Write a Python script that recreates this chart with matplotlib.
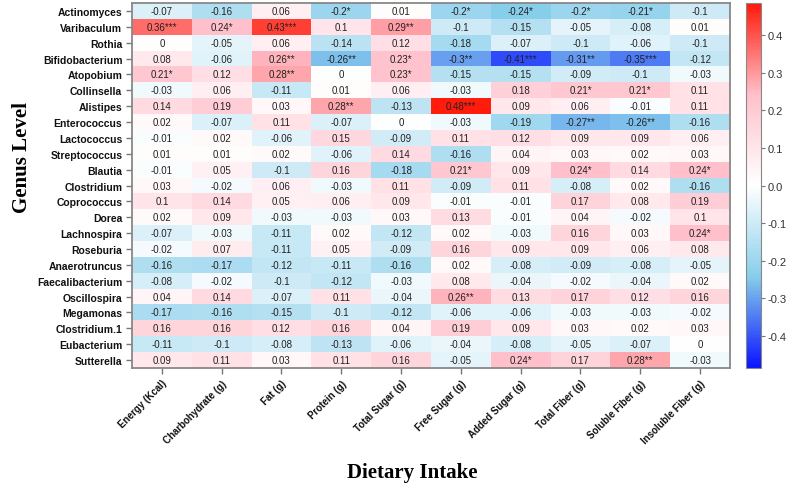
import matplotlib
matplotlib.use("Agg")
import matplotlib.pyplot as plt
import numpy as np
from matplotlib.colors import LinearSegmentedColormap

genera = [
    "Actinomyces", "Varibaculum", "Rothia", "Bifidobacterium", "Atopobium",
    "Collinsella", "Alistipes", "Enterococcus", "Lactococcus", "Streptococcus",
    "Blautia", "Clostridium", "Coprococcus", "Dorea", "Lachnospira",
    "Roseburia", "Anaerotruncus", "Faecalibacterium", "Oscillospira",
    "Megamonas", "Clostridium.1", "Eubacterium", "Sutterella",
]
nutrients = [
    "Energy (Kcal)", "Charbohydrate (g)", "Fat (g)", "Protein (g)",
    "Total Sugar (g)", "Free Sugar (g)", "Added Sugar (g)",
    "Total Fiber (g)", "Soluble Fiber (g)", "Insoluble Fiber (g)",
]

# correlation coefficients, one row per genus
corr = [
    [-0.07, -0.16, 0.06, -0.2, 0.01, -0.2, -0.24, -0.2, -0.21, -0.1],
    [0.36, 0.24, 0.43, 0.1, 0.29, -0.1, -0.15, -0.05, -0.08, 0.01],
    [0, -0.05, 0.06, -0.14, 0.12, -0.18, -0.07, -0.1, -0.06, -0.1],
    [0.08, -0.06, 0.26, -0.26, 0.23, -0.3, -0.41, -0.31, -0.35, -0.12],
    [0.21, 0.12, 0.28, 0, 0.23, -0.15, -0.15, -0.09, -0.1, -0.03],
    [-0.03, 0.06, -0.11, 0.01, 0.06, -0.03, 0.18, 0.21, 0.21, 0.11],
    [0.14, 0.19, 0.03, 0.28, -0.13, 0.48, 0.09, 0.06, -0.01, 0.11],
    [0.02, -0.07, 0.11, -0.07, 0, -0.03, -0.19, -0.27, -0.26, -0.16],
    [-0.01, 0.02, -0.06, 0.15, -0.09, 0.11, 0.12, 0.09, 0.09, 0.06],
    [0.01, 0.01, 0.02, -0.06, 0.14, -0.16, 0.04, 0.03, 0.02, 0.03],
    [-0.01, 0.05, -0.1, 0.16, -0.18, 0.21, 0.09, 0.24, 0.14, 0.24],
    [0.03, -0.02, 0.06, -0.03, 0.11, -0.09, 0.11, -0.08, 0.02, -0.16],
    [0.1, 0.14, 0.05, 0.06, 0.09, -0.01, -0.01, 0.17, 0.08, 0.19],
    [0.02, 0.09, -0.03, -0.03, 0.03, 0.13, -0.01, 0.04, -0.02, 0.1],
    [-0.07, -0.03, -0.11, 0.02, -0.12, 0.02, -0.03, 0.16, 0.03, 0.24],
    [-0.02, 0.07, -0.11, 0.05, -0.09, 0.16, 0.09, 0.09, 0.06, 0.08],
    [-0.16, -0.17, -0.12, -0.11, -0.16, 0.02, -0.08, -0.09, -0.08, -0.05],
    [-0.08, -0.02, -0.1, -0.12, -0.03, 0.08, -0.04, -0.02, -0.04, 0.02],
    [0.04, 0.14, -0.07, 0.11, -0.04, 0.26, 0.13, 0.17, 0.12, 0.16],
    [-0.17, -0.16, -0.15, -0.1, -0.12, -0.06, -0.06, -0.03, -0.03, -0.02],
    [0.16, 0.16, 0.12, 0.16, 0.04, 0.19, 0.09, 0.03, 0.02, 0.03],
    [-0.11, -0.1, -0.08, -0.13, -0.06, -0.04, -0.08, -0.05, -0.07, 0],
    [0.09, 0.11, 0.03, 0.11, 0.16, -0.05, 0.24, 0.17, 0.28, -0.03],
]

# significance stars (number of '*') per cell
stars = [
    [0, 0, 0, 1, 0, 1, 1, 1, 1, 0],
    [3, 1, 3, 0, 2, 0, 0, 0, 0, 0],
    [0, 0, 0, 0, 0, 0, 0, 0, 0, 0],
    [0, 0, 2, 2, 1, 2, 3, 2, 3, 0],
    [1, 0, 2, 0, 1, 0, 0, 0, 0, 0],
    [0, 0, 0, 0, 0, 0, 0, 1, 1, 0],
    [0, 0, 0, 2, 0, 3, 0, 0, 0, 0],
    [0, 0, 0, 0, 0, 0, 0, 2, 2, 0],
    [0, 0, 0, 0, 0, 0, 0, 0, 0, 0],
    [0, 0, 0, 0, 0, 0, 0, 0, 0, 0],
    [0, 0, 0, 0, 0, 1, 0, 1, 0, 1],
    [0, 0, 0, 0, 0, 0, 0, 0, 0, 0],
    [0, 0, 0, 0, 0, 0, 0, 0, 0, 0],
    [0, 0, 0, 0, 0, 0, 0, 0, 0, 0],
    [0, 0, 0, 0, 0, 0, 0, 0, 0, 1],
    [0, 0, 0, 0, 0, 0, 0, 0, 0, 0],
    [0, 0, 0, 0, 0, 0, 0, 0, 0, 0],
    [0, 0, 0, 0, 0, 0, 0, 0, 0, 0],
    [0, 0, 0, 0, 0, 2, 0, 0, 0, 0],
    [0, 0, 0, 0, 0, 0, 0, 0, 0, 0],
    [0, 0, 0, 0, 0, 0, 0, 0, 0, 0],
    [0, 0, 0, 0, 0, 0, 0, 0, 0, 0],
    [0, 0, 0, 0, 0, 0, 1, 0, 2, 0],
]

plt.rcParams["font.family"] = ["Liberation Sans", "DejaVu Sans"]

cmap = LinearSegmentedColormap.from_list(
    "bwr_soft", ["#0a14ff", "#87ceeb", "#ffffff", "#ffc0cb", "#ff1a0a"]
)
lim = 0.485

fig = plt.figure(figsize=(7.89, 4.89), dpi=100)
ax = fig.add_axes([0.1673, 0.2454, 0.7579, 0.7464])

mat = np.array(corr)
im = ax.imshow(mat, cmap=cmap, vmin=-lim, vmax=lim, aspect="auto",
               interpolation="nearest")

for i in range(len(genera)):
    for j in range(len(nutrients)):
        v = corr[i][j]
        txt = f"{v:g}" + "*" * stars[i][j]
        ax.text(j, i, txt, ha="center", va="center", fontsize=7, color="#222222")

ax.set_xticks(range(len(nutrients)))
ax.set_yticks(range(len(genera)))
ax.set_yticklabels(genera, fontsize=7.5, fontweight="bold", color="#111111")
ax.set_xticklabels(nutrients, fontsize=7, fontweight="bold", color="#111111",
                   rotation=45, ha="right", va="top", rotation_mode="anchor")
ax.tick_params(axis="both", length=4, width=1, color="#777777", pad=3)
for s in ax.spines.values():
    s.set_color("#888888")
    s.set_linewidth(1.3)

fig.text(0.028, 0.677, "Genus Level", rotation=90, ha="center", va="center",
         fontsize=15, fontweight="bold", family="Liberation Serif")
fig.text(0.522, 0.033, "Dietary Intake", ha="center", va="center",
         fontsize=15, fontweight="bold", family="Liberation Serif")

cax = fig.add_axes([0.9455, 0.2454, 0.019, 0.7464])
cb = fig.colorbar(im, cax=cax, ticks=[-0.4, -0.3, -0.2, -0.1, 0.0, 0.1, 0.2, 0.3, 0.4])
cb.ax.set_yticklabels([f"{t:.1f}" for t in [-0.4, -0.3, -0.2, -0.1, 0.0, 0.1, 0.2, 0.3, 0.4]])
cb.ax.tick_params(labelsize=8, length=3, color="#777777", labelcolor="#333333", pad=2)
cb.outline.set_edgecolor("#888888")

fig.savefig("out.png", dpi=100)
